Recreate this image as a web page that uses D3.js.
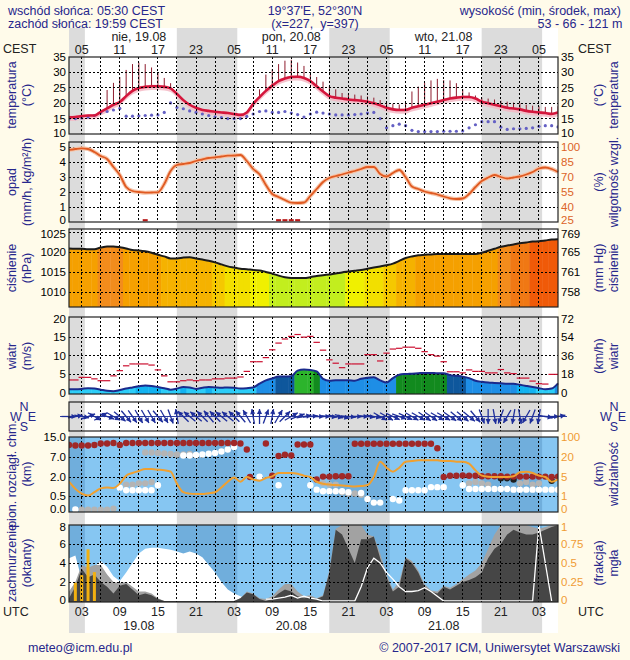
<!DOCTYPE html>
<html><head><meta charset="utf-8">
<script src="https://cdn.jsdelivr.net/npm/d3@7/dist/d3.min.js"></script>
<style>
html,body{margin:0;padding:0;background:#fffbea;}
svg text{font-family:"Liberation Sans",Arial,Helvetica,sans-serif;}
.grid{stroke:#000;stroke-width:1;stroke-dasharray:2,2;shape-rendering:crispEdges;fill:none}
</style></head><body>
<svg id="chart" width="630" height="660"></svg>
<script>
// ================= DATA =================
// hour index: hours after 00 UTC 19.08
const hoursUTC = d3.range(1, 79);
const sunriseUTC = 3.5, sunsetUTC = 17.98;
const gridHours = d3.range(3, 78, 3);
const labelHours = [3,9,15,21,27,33,39,45,51,57,63,69,75];
const utcLabels  = ["03","09","15","21","03","09","15","21","03","09","15","21","03"];
const cestLabels = ["05","11","17","23","05","11","17","23","05","11","17","23","05"];
const dayNoon = [12,36,60];
const dayNamesTop = ["nie, 19.08","pon, 20.08","wto, 21.08"];
const dayDatesBottom = ["19.08","20.08","21.08"];

const temperature = [15.4,15.5,15.8,16.0,16.0,17.2,18.3,19.5,20.4,22.3,
 24.0,24.9,25.3,25.5,25.5,25.3,24.8,23.0,21.0,19.5,
 18.5,17.8,17.5,17.2,17.0,16.8,16.5,16.2,17.0,19.8,
 22.0,24.0,25.7,27.2,28.0,28.5,28.6,28.2,27.2,25.5,
 23.8,22.3,21.8,21.5,21.2,21.0,20.8,20.5,20.0,19.3,
 18.5,18.0,17.8,17.8,18.5,19.0,19.5,20.0,20.5,21.0,
 21.5,21.8,22.0,22.0,21.5,20.5,20.0,19.5,19.0,18.5,
 18.3,18.0,17.5,17.2,17.0,16.8,16.5,17.0];
const tempMax = [null,null,null,null,null,null,24.3,26.6,28.5,30.8,
 32.7,33.2,32.7,31.6,30.0,28.2,26.5,null,null,null,
 null,null,null,null,null,null,null,null,null,null,
 24.5,29.3,31.0,32.7,33.8,34.1,33.2,32.1,29.3,28.5,
 27.0,25.5,24.5,23.3,23.0,22.8,22.5,22.2,21.8,21.0,
 20.3,19.8,19.6,20.0,23.8,25.4,26.6,27.4,27.9,27.5,
 27.4,26.5,24.5,23.5,22.5,21.8,21.5,21.2,20.8,20.5,
 20.2,20.0,19.5,19.2,19.0,18.8,18.8,19.0];
const dewPoint = [14.9,15.0,15.2,15.5,16.0,17.0,17.3,17.8,18.3,15.8,
 15.8,15.9,16.0,16.1,16.2,17.0,20.1,18.6,18.2,17.5,
 17.0,16.5,16.0,15.6,15.3,15.0,15.0,15.0,15.7,16.5,
 17.3,17.5,17.0,17.0,17.3,16.8,16.3,15.5,16.5,17.1,
 16.8,16.5,16.2,16.2,16.2,16.3,16.5,16.8,17.0,15.0,
 12.0,12.7,13.2,12.7,11.2,10.8,10.8,10.8,10.8,10.9,
 10.9,10.9,11.0,12.0,13.0,14.0,14.0,14.0,12.2,11.5,
 11.7,11.7,11.8,12.0,12.5,12.7,12.7,12.3];
const humidity = [97,98,98.7,98,95,91,88,80,72,60,
 56,55,54.3,54.5,54.7,63,76,82,83,84,
 86,87.5,89,89.5,90.5,91.3,91.5,92,86,78,
 72.7,62,53,50,47,44.3,44,44.5,51,58,
 65,69,71,72.5,74.5,76,78,80,80,73,
 70.5,74,77,70,60.5,58,55.5,54,52.5,50.5,
 48.7,48,48.5,53,60,66,69.5,72,70,68.5,
 69.5,70.5,72.5,75,78.5,79.5,78,75];
const precipHours = [13,34,35,36,37];
const precipVals  = [0.05,0.05,0.05,0.05,0.05];
const pressure = [1020.9,1020.8,1020.8,1020.7,1020.7,1021.1,1021.4,1021.4,1021.2,1020.9,
 1020.5,1020.4,1020.2,1019.8,1019.3,1018.9,1018.4,1018.4,1018.6,1018.7,
 1018.4,1018.1,1017.8,1017.4,1016.9,1016.4,1016.1,1015.8,1015.7,1015.5,
 1015.4,1015.0,1014.6,1014.1,1013.7,1013.5,1013.5,1013.5,1013.7,1014.0,
 1014.2,1014.4,1014.6,1014.9,1015.1,1015.3,1015.5,1015.8,1016.1,1016.4,
 1016.7,1017.1,1017.8,1018.5,1018.9,1019.2,1019.3,1019.4,1019.5,1019.5,
 1019.5,1019.5,1019.5,1019.5,1019.5,1019.8,1020.3,1020.8,1021.3,1021.6,
 1021.9,1022.2,1022.4,1022.6,1022.7,1022.9,1023.1,1023.2];
const windSpeed = [1.0,1.0,1.1,1.3,1.2,0.9,0.6,0.5,0.8,1.2,
 1.5,1.8,2.0,1.9,1.6,1.3,0.9,1.2,1.6,1.5,
 1.1,1.4,1.6,1.5,1.4,1.5,1.4,1.2,1.3,1.5,
 2.5,3.4,3.9,4.4,4.4,4.5,6.0,6.3,6.2,5.8,
 3.8,3.3,3.4,3.4,3.4,3.3,3.8,4.1,4.2,3.4,
 2.8,4.0,4.9,5.1,5.2,5.3,5.4,5.4,5.3,5.3,
 4.8,4.6,4.4,4.0,3.3,3.0,2.8,2.7,2.6,2.5,
 2.5,2.2,1.9,1.6,1.3,1.0,1.2,2.6];
const windGust = [3.5,3.5,4.2,4.2,3.8,3.3,3.3,4.6,6.0,7.3,
 7.8,7.8,7.8,7.5,6.2,4.6,3.0,3.0,3.3,3.5,
 3.3,3.5,3.5,3.8,3.8,4.0,4.0,4.3,5.8,8.4,
 8.4,9.5,11.6,13.4,14.5,15.2,15.7,15.0,15.2,13.6,
 11.5,8.9,8.0,6.8,7.8,7.8,7.8,10.3,10.3,8.6,
 10.7,11.8,12.0,12.3,12.3,12.0,11.1,10.3,9.9,8.4,
 5.7,5.7,5.4,6.2,5.8,5.8,5.4,5.4,6.3,5.4,
 5.2,4.0,4.0,3.2,2.5,2.4,5.0,5.0];
const windDir = [270,260,280,250,300,240,290,300,310,320,
 325,330,330,330,320,330,340,170,135,130,
 130,135,140,135,130,130,135,140,150,170,
 180,200,190,210,225,240,250,260,265,270,
 270,275,280,285,275,270,270,275,280,300,
 300,295,290,295,300,300,305,305,300,300,
 305,310,310,310,320,340,0,350,20,30,
 10,350,30,20,10,280,270,260];
const visibility = [4.0,2.5,1.5,1.1,1.8,2.6,2.8,2.7,3.6,6.0,
 8.0,9.5,11,11,10.5,10,9,3.6,1.8,1.5,
 1.4,1.4,1.6,1.8,2.8,4.0,4.9,4.0,5.0,4.5,
 4.2,4.8,5.5,8,8,8,7.5,6,5,4,
 3.6,3.4,3.3,3.2,3.1,3.0,3.1,3.3,5,16.5,
 12,9,12,16.5,17,17.5,17.5,17.5,17.5,17,
 17,16.5,16.5,15,10,6,5.2,5.0,5.0,5.0,
 5.5,8.5,9,8,6,5,4,4.5];
const cloudDotsRed = [[1,11.8],[2,11.6],[3,11.6],[4,11.6],[5,11.8],[6,12.4],[7,12.4],[8,12.6],[9,11.8],[10,12.6],
 [11,12.6],[12,12.6],[13,12.6],[14,12.6],[15,12.6],[16,12.6],[17,12.6],[18,12.6],[19,12.6],[20,12.6],
 [21,12.6],[22,12.6],[23,12.6],[24,12.6],[25,12.6],[26,12.6],[27,12.6],[28,12.4],
 [29,10.0],[29.5,2.0],[32,12.4],[33,2.3],[34,7.4],[35,7.9],[36,7.6],[37,12.0],[38,12.0],[39,12.0],
 [40,1.8],[41,2.1],[42,2.1],[43,2.2],[44,2.2],[45,2.2],
 [46,12.3],[47,12.3],[48,12.3],[49,12.3],[50,12.3],[51,12.3],[52,12.3],[53,12.3],[54,12.3],[55,12.3],[56,12.3],[57,12.3],[58,12.3],
 [59,10.5],[60,2.0],[61,2.3],[62,2.3],[63,2.4],[64,2.3],[65,2.3],[66,2.2],[67,2.2],[68,2.2],[69,2.2],[70,2.1],
 [71,2.1],[72,2.1],[73,2.1],[74,2.1],[75,2.1],[76,2.1],[77,2.0],[78,2.1]];
const cloudDotsGray = [[3,0.04],[4,0.04],[5,0.04],[6,0.04],[7,0.04],[8,0.08],
 [10,1.4],[11,1.4],[12,1.5],[13,1.5],[14,1.6],
 [13,8.8],[14,8.8],[15,8.6],[16,8.4],[17,8.2],[18,8.0],[19,8.0],[20,8.2],
 [41,1.5],[42,1.4],[43,1.4],[44,0.8],[45,0.7],[46,0.7],[47,0.6],
 [64,1.5],[65,1.6],[66,1.5],[67,1.4],[72,1.5],[73,1.6],[74,1.4],[75,1.5]];
const cloudDotsWhite = [[2,0.05],[9,1.16],[10,0.95],[11,0.95],[12,0.95],[13,0.95],[14,0.95],[15,1.35],
 [19,7.6],[20,7.6],[21,7.8],[22,8.0],[23,8.3],[24,8.6],[25,9.2],[26,10.0],[27,11.0],
 [31,2.1],[34,1.35],[39,1.35],[40,1.0],[41,0.87],[42,0.87],[43,0.87],[44,0.87],[45,0.8],
 [47,0.74],[48,0.4],[49,0.28],[50,0.28],[52,0.4],[53,0.35],[54,0.95],[55,0.95],[56,0.95],[57,0.95],
 [58,1.2],[59,1.2],[60,1.2],[63,1.35],[64,1.05],[65,1.05],[66,1.05],[67,1.05],[68,1.05],[69,1.05],
 [70,1.05],[71,1.0],[72,1.0],[73,1.0],[74,1.0],[75,1.0],[76,1.0],[77,1.0],[78,1.0]];
const cloudDotsBlack = [[69,1.9],[70,1.9],[71,1.8],[77,1.7]];
const cloudWhite = [4.5,4.8,2.3,2.6,3.6,4.2,3.6,2.6,2.1,3.0,
 4.0,5.0,5.5,5.6,5.6,5.5,5.4,5.2,5.0,5.2,
 5.0,4.6,3.8,3.0,2.0,1.2,0.8,0.5,0.2,0,
 0,0,0,0,0,0,0,0,0,0, 0,0,0,0,0,0,0,0,0,0,
 0,0,0,0,0,0,0,0,0,0, 0,0,0,0,0,0,0,0,0,0, 0,0,0,0,0,0,0,0];
const cloudLight = [1.0,2.0,3.8,3.5,3.8,3.8,2.8,2.0,1.9,2.0,
 1.5,1.0,1.0,0.8,0.3,0,0,0,0,0,
 0,0,0,0,0,0,0,0.3,1.0,0.8,
 0.3,0.2,0.5,1.2,1.8,1.8,1.0,0.5,0.6,0.3,
 0.6,3.2,7.6,8.0,8.0,8.0,8.0,7.0,6.8,5.0,
 2.8,1.2,2.0,4.6,4.2,3.2,1.8,1.1,1.0,1.6,
 1.4,1.8,2.3,2.8,3.2,4.0,5.5,7.0,8.0,8.0,
 8.0,8.0,8.0,7.8,7.6,7.8,8.0,8.0];
const cloudDark = [0.3,1.5,3.4,2.5,2.8,2.0,1.5,0.8,1.6,1.8,
 1.2,0.6,0.8,0.6,0.2,0,0,0,0,0,
 0,0,0,0,0,0,0,0.3,0.9,0.7,
 0.2,0,0.2,0.8,1.2,1.0,0.5,0.3,0.4,0.2,
 0.5,3.0,7.5,7.0,5.5,4.0,6.5,6.5,6.8,4.5,
 2.5,1.0,1.5,4.5,4.0,3.0,1.5,1.0,0.8,1.5,
 1.2,1.6,2.0,2.2,2.5,3.0,4.5,5.5,6.0,7.0,
 7.5,7.2,7.0,7.0,7.2,7.5,7.8,8.0];
const whiteLineHours = [32,33,34,35,36,37,38,39,40,41,46,47,48,49,50,51,52,53,54,55,56,57,58,59,60,74,75,76,77];
const whiteLineVals  = [0.2,0.2,0.3,0.4,0.6,0.3,0.5,0.3,0.2,0,0,1.5,3.5,4.5,4.0,3.0,2.3,1.5,1.0,1.0,1.1,1.4,1.0,0.5,0,0,8,4,0];
const fogHours = [2,3,4,5];
const fogVals  = [0.24,0.34,0.68,0.38];

const tempTicks=[10,15,20,25,30,35];
const precipTicks=[0,1,2,3,4,5];
const humTicks=[25,40,55,70,85,100];
const pressTicks=[1010,1015,1020,1025];
const pressHgLabels=["758","761","765","769"];
const windTicks=[0,5,10,15,20];
const windKmhLabels=["0","18","36","54","72"];
const cbTicks=[0,0.5,2,7,15];
const cbLabels=["0.0","0.5","2.0","7.0","15.0"];
const visTicks=[0,1,5,20,100];
const coverTicks=[0,2,4,6,8];
const fogTicks=[0,0.25,0.5,0.75,1];
const fogLabels=["0","0.25","0.5","0.75","1"];

// ================= DRAWING =================
const svg = d3.select("#chart");
const W=630,H=660,X0=69,X1=558;
const BLUE="#27278c", ORANGE_R="#dc6428", ORANGE_V="#f09c34";
const TICK_FS=11.5;
const x = d3.scaleLinear().domain([1,78]).range([X0,X1]);
const nights = [[1,sunriseUTC],[sunsetUTC,sunriseUTC+24],[sunsetUTC+24,sunriseUTC+48],[sunsetUTC+48,sunriseUTC+72]];
const defs = svg.append("defs");

svg.append("rect").attr("width",W).attr("height",H).attr("fill","#fffbea");
svg.append("rect").attr("x",X0).attr("y",28).attr("width",X1-X0).attr("height",605).attr("fill","#ffffff");
nights.forEach(([a,b])=>svg.append("rect").attr("x",x(a)).attr("y",28).attr("width",x(b)-x(a)).attr("height",605).attr("fill","#dcdcdc"));

function txt(xp,yp,s,o={}){
  return svg.append("text").attr("x",xp).attr("y",yp).text(s)
   .attr("font-size",o.size||TICK_FS).attr("fill",o.fill||"#000")
   .attr("text-anchor",o.anchor||"start").attr("dy",o.dy||null);
}
function vtxt(xc,yc,s){
  svg.append("text").attr("transform",`translate(${xc},${yc}) rotate(-90)`)
   .attr("text-anchor","middle").attr("dy","0.35em").attr("font-size",12.5).attr("fill",BLUE).text(s);
}
function vgrid(y0,y1){ gridHours.forEach(h=>svg.append("line").attr("class","grid").attr("x1",x(h)).attr("x2",x(h)).attr("y1",y0).attr("y2",y1)); }
function hgrid(ys){ ys.forEach(y=>svg.append("line").attr("class","grid").attr("x1",X0).attr("x2",X1).attr("y1",y).attr("y2",y)); }
function frame(y0,y1){ svg.append("rect").attr("x",X0).attr("y",y0).attr("width",X1-X0).attr("height",y1-y0)
   .attr("fill","none").attr("stroke","#222").attr("stroke-width",1.2); }
// nudge: optional per-label pixel shift to keep neighbouring panels' labels apart
function leftTicks(vals,scale,labels,fill,nudge){ vals.forEach((v,i)=>txt(66,scale(v)+((nudge&&nudge[i])||0),labels?labels[i]:String(v),{anchor:"end",dy:"0.35em",fill:fill||"#000"})); }
function rightTicks(vals,scale,labels,fill,nudge){ vals.forEach((v,i)=>txt(561,scale(v)+((nudge&&nudge[i])||0),labels?labels[i]:String(v),{dy:"0.35em",fill:fill||"#000"})); }
function clipRect(id,y0,y1){ defs.append("clipPath").attr("id",id).append("rect").attr("x",X0).attr("y",y0).attr("width",X1-X0).attr("height",y1-y0); return `url(#${id})`; }

// ---------- header ----------
txt(8,15,"wschód słońca: 05:30 CEST",{fill:BLUE,size:12.5});
txt(8,28,"zachód słońca: 19:59 CEST",{fill:BLUE,size:12.5});
txt(315,15,"19°37'E, 52°30'N",{fill:BLUE,size:12.5,anchor:"middle"});
txt(315,28,"(x=227,  y=397)",{fill:BLUE,size:12.5,anchor:"middle"}).attr("xml:space","preserve").style("white-space","pre");
txt(621,15,"wysokość (min, środek, max)",{fill:BLUE,size:12.5,anchor:"end"});
txt(580,28,"53 - 66 - 121 m",{fill:BLUE,size:12.5,anchor:"middle"});
dayNoon.forEach((h,i)=>txt(x(h),41,dayNamesTop[i],{anchor:"middle",fill:"#222",size:12.5}));
labelHours.forEach((h,i)=>txt(x(h),54,cestLabels[i],{anchor:"middle",fill:"#222",size:12.5}));
txt(3,53,"CEST",{fill:"#222",size:12.5});
txt(578,53,"CEST",{fill:"#222",size:12.5});

// ---------- temperature ----------
const yT = d3.scaleLinear().domain([10,35]).range([134,57]);
const cT = clipRect("cT",57,134);
const gT = svg.append("g").attr("clip-path",cT);
gT.append("path").datum(temperature)
  .attr("d",d3.area().x((d,i)=>x(hoursUTC[i])).y0(d=>yT(d-1.2)).y1(d=>yT(d+0.5)).curve(d3.curveMonotoneX))
  .attr("fill","#f5b8c4").attr("opacity",0.85);
vgrid(57,134); hgrid([15,20,25,30].map(yT));
hoursUTC.forEach((h,i)=>{ if(tempMax[i]!=null) gT.append("line").attr("x1",x(h)).attr("x2",x(h))
  .attr("y1",yT(temperature[i])).attr("y2",yT(tempMax[i])).attr("stroke","#8e1c2e").attr("stroke-width",1); });
gT.selectAll(".dew").data(dewPoint).join("circle").attr("cx",(d,i)=>x(hoursUTC[i])).attr("cy",d=>yT(d)).attr("r",1.6).attr("fill","#6460c4");
gT.append("path").datum(temperature).attr("d",d3.line().x((d,i)=>x(hoursUTC[i])).y(d=>yT(d)).curve(d3.curveMonotoneX))
  .attr("fill","none").attr("stroke","#d4163c").attr("stroke-width",2.6);
frame(57,134);
leftTicks(tempTicks,yT,null,null,[-1.5]); rightTicks(tempTicks,yT,null,null,[-1.5]);
vtxt(12,95,"temperatura"); vtxt(27,95,"(°C)");
vtxt(599,95,"(°C)"); vtxt(614,95,"temperatura");

// ---------- precipitation / humidity ----------
const yP = d3.scaleLinear().domain([0,5]).range([222,147]);
const yH = d3.scaleLinear().domain([25,100]).range([222,147]);
vgrid(142,222); hgrid([1,2,3,4,5].map(yP));
const hLine = d3.line().x((d,i)=>x(hoursUTC[i])).y(d=>yH(d)).curve(d3.curveMonotoneX);
svg.append("path").datum(humidity).attr("d",hLine).attr("fill","none").attr("stroke","#f6c4a8").attr("stroke-width",4);
svg.append("path").datum(humidity).attr("d",hLine).attr("fill","none").attr("stroke","#e05a22").attr("stroke-width",1.8);
precipHours.forEach((h,i)=>svg.append("line").attr("x1",x(h)-2.5).attr("x2",x(h)+2.5)
  .attr("y1",yP(precipVals[i])-1).attr("y2",yP(precipVals[i])-1).attr("stroke","#b81818").attr("stroke-width",2.2));
frame(142,222);
leftTicks(precipTicks,yP,null,null,[-2.5]); rightTicks(humTicks,yH,null,ORANGE_R,[-2.5]);
vtxt(12,182,"opad"); vtxt(27,182,"(mm/h, kg/m²/h)");
vtxt(599,182,"(%)"); vtxt(614,182,"wilgotność wzgl.");

// ---------- pressure ----------
const yPr = d3.scaleLinear().domain([1010,1025]).range([292,232]);
const pColor = d3.scaleThreshold().domain([1015.0,1015.6,1016.5,1017.6,1019.0,1021.0,1021.7,1022.6])
  .range(["#c2ee1e","#f0f000","#f2df00","#f5c800","#f5b200","#f5a000","#f28c1c","#f07814","#f05a08"]);
const pArea = d3.area().x((d,i)=>x(hoursUTC[i])).y0(307).y1(d=>yPr(d)).curve(d3.curveMonotoneX);
defs.append("clipPath").attr("id","cPr").append("path").datum(pressure).attr("d",pArea);
const gPr = svg.append("g").attr("clip-path","url(#cPr)");
hoursUTC.forEach((h,i)=>{ const a=Math.max(X0,x(h-0.5)), b=Math.min(X1,x(h+0.5));
  gPr.append("rect").attr("x",a).attr("y",229).attr("width",b-a+0.4).attr("height",78).attr("fill",pColor(pressure[i])); });
vgrid(229,307); hgrid(pressTicks.map(yPr));
svg.append("path").datum(pressure).attr("d",d3.line().x((d,i)=>x(hoursUTC[i])).y(d=>yPr(d)).curve(d3.curveMonotoneX))
  .attr("fill","none").attr("stroke","#1a1a1a").attr("stroke-width",2);
frame(229,307);
leftTicks(pressTicks,yPr,null,null,[0,0,0,2]); rightTicks(pressTicks,yPr,pressHgLabels,null,[0,0,0,2]);
vtxt(12,268,"ciśnienie"); vtxt(27,268,"(hPa)");
vtxt(599,268,"(mm Hg)"); vtxt(614,268,"ciśnienie");

// ---------- wind ----------
const yW = d3.scaleLinear().domain([0,20]).range([393,318.5]);
const wColor = d3.scaleThreshold().domain([1.55,2.5,4.3,4.9,5.9])
  .range(["#2ccdf8","#12b2f0","#1e8ee6","#0e579c","#128a1e","#2cb42c"]);
const wArea = d3.area().x((d,i)=>x(hoursUTC[i])).y0(394).y1(d=>yW(d)).curve(d3.curveMonotoneX);
defs.append("clipPath").attr("id","cW").append("path").datum(windSpeed).attr("d",wArea);
const gW = svg.append("g").attr("clip-path","url(#cW)");
hoursUTC.forEach((h,i)=>{ const a=Math.max(X0,x(h-0.5)), b=Math.min(X1,x(h+0.5));
  gW.append("rect").attr("x",a).attr("y",318).attr("width",b-a+0.4).attr("height",76).attr("fill",wColor(windSpeed[i])); });
vgrid(317,394); hgrid([5,10,15].map(yW));
svg.append("path").datum(windSpeed).attr("d",d3.line().x((d,i)=>x(hoursUTC[i])).y(d=>yW(d)).curve(d3.curveMonotoneX))
  .attr("fill","none").attr("stroke","#1a2a8c").attr("stroke-width",2);
hoursUTC.forEach((h,i)=>svg.append("line").attr("x1",Math.max(X0,x(h)-3.2)).attr("x2",Math.min(X1,x(h)+3.2))
  .attr("y1",yW(windGust[i])).attr("y2",yW(windGust[i])).attr("stroke","#cc1030").attr("stroke-width",1.2));
frame(317,394);
leftTicks(windTicks,yW); rightTicks(windTicks,yW,windKmhLabels);
vtxt(12,356,"wiatr"); vtxt(27,356,"(m/s)");
vtxt(599,356,"(km/h)"); vtxt(614,356,"wiatr");

// ---------- wind direction ----------
const yD0=402, yD1=431, yDc=416.5;
vgrid(yD0,yD1);
svg.append("line").attr("x1",60).attr("x2",567).attr("y1",yDc).attr("y2",yDc).attr("stroke","#3040a0").attr("stroke-width",1);
const arrowLen=15;
hoursUTC.forEach((h,i)=>{
  const th=windDir[i]*Math.PI/180, dx=-Math.sin(th), dy=Math.cos(th);
  const cx=x(h), x1=cx-dx*arrowLen/2, y1=yDc-dy*arrowLen/2, x2=cx+dx*arrowLen/2, y2=yDc+dy*arrowLen/2;
  svg.append("line").attr("x1",x1).attr("y1",y1).attr("x2",x2).attr("y2",y2).attr("stroke","#1e2e9a").attr("stroke-width",1.3);
  const px=-dy, py=dx, hl=5, hw=2.6;
  const bx=x2-dx*hl, by=y2-dy*hl;
  svg.append("path").attr("d",`M${x2},${y2}L${bx+px*hw},${by+py*hw}L${bx-px*hw},${by-py*hw}Z`).attr("fill","#1e2e9a");
});
frame(yD0,yD1);
function compass(cx){
  txt(cx-8,421,"W",{fill:BLUE,size:12.5,anchor:"middle"});
  txt(cx,411,"N",{fill:BLUE,size:12.5,anchor:"middle"});
  txt(cx+8,421,"E",{fill:BLUE,size:12.5,anchor:"middle"});
  txt(cx,431,"S",{fill:BLUE,size:12.5,anchor:"middle"});
}
compass(24); compass(614);

// ---------- cloud extent / visibility ----------
const cb0=437, cb1=512;
const yCB = d3.scaleLinear().domain(cbTicks).range([511,496,477,457,437]);
const yV = d3.scaleLinear().domain(visTicks).range([511,496,477,457,437]);
svg.append("rect").attr("x",X0).attr("y",cb0).attr("width",X1-X0).attr("height",cb1-cb0).attr("fill","#86c6f2");
nights.forEach(([a,b])=>svg.append("rect").attr("x",x(a)).attr("y",cb0).attr("width",x(b)-x(a)).attr("height",cb1-cb0).attr("fill","#70aedc"));
vgrid(cb0,cb1); hgrid([0.5,2,7].map(yCB));
const gCB = svg.append("g").attr("clip-path",clipRect("cCB",cb0,cb1));
function dots(data,fill){ data.forEach(([h,v])=>gCB.append("circle").attr("cx",x(h)).attr("cy",yCB(v)).attr("r",3.2).attr("fill",fill)); }
dots(cloudDotsGray,"#b4b4b4");
dots(cloudDotsWhite,"#ffffff");
dots(cloudDotsBlack,"#1e1e1e");
dots(cloudDotsRed,"#a02828");
gCB.append("path").datum(visibility).attr("d",d3.line().x((d,i)=>x(hoursUTC[i])).y(d=>yV(d)).curve(d3.curveMonotoneX))
  .attr("fill","none").attr("stroke","#f0a030").attr("stroke-width",2);
frame(cb0,cb1);
leftTicks(cbTicks,yCB,cbLabels,null,[-2]); rightTicks(visTicks,yV,null,ORANGE_V,[-2]);
vtxt(12,474,"pion. rozciągł. chm."); vtxt(27,474,"(km)");
vtxt(599,474,"(km)"); vtxt(614,474,"widzialność");

// ---------- cloud cover / fog ----------
const cc0=525, cc1=602;
const yC = d3.scaleLinear().domain([0,8]).range([601,525]);
const yF = d3.scaleLinear().domain([0,1]).range([601,525]);
svg.append("rect").attr("x",X0).attr("y",cc0).attr("width",X1-X0).attr("height",cc1-cc0).attr("fill","#86c6f2");
nights.forEach(([a,b])=>svg.append("rect").attr("x",x(a)).attr("y",cc0).attr("width",x(b)-x(a)).attr("height",cc1-cc0).attr("fill","#70aedc"));
const gC = svg.append("g").attr("clip-path",clipRect("cC",cc0,cc1));
const cArea = d3.area().x((d,i)=>x(hoursUTC[i])).y0(602).y1(d=>yC(d));
gC.append("path").datum(cloudWhite).attr("d",cArea).attr("fill","#ffffff");
gC.append("path").datum(cloudLight).attr("d",cArea).attr("fill","#a2a2a2");
gC.append("path").datum(cloudDark).attr("d",cArea).attr("fill","#464646");
vgrid(cc0,cc1); hgrid([2,4,6].map(yC));
gC.append("path").datum(whiteLineVals).attr("d",d3.line().x((d,i)=>x(whiteLineHours[i])).y(d=>yC(d)))
  .attr("fill","none").attr("stroke","#ffffff").attr("stroke-width",1.3);
fogHours.forEach((h,i)=>gC.append("rect").attr("x",x(h)-1.5).attr("y",yF(fogVals[i])).attr("width",3).attr("height",601-yF(fogVals[i])).attr("fill","#f2b010"));
frame(cc0,cc1);
leftTicks(coverTicks,yC,null,null,[-1,0,0,0,1.5]); rightTicks(fogTicks,yF,fogLabels,ORANGE_V,[-1,0,0,0,1.5]);
vtxt(12,563,"zachmurzenie"); vtxt(27,563,"(oktanty)");
vtxt(599,563,"(frakcja)"); vtxt(614,563,"mgła");

// ---------- bottom axis ----------
labelHours.forEach((h,i)=>txt(x(h),616,utcLabels[i],{anchor:"middle",fill:"#222",size:12.5}));
dayNoon.forEach((h,i)=>txt(x(h),630,dayDatesBottom[i],{anchor:"middle",fill:"#222",size:12.5}));
txt(3,616,"UTC",{fill:"#222",size:12.5});
txt(578,616,"UTC",{fill:"#222",size:12.5});

// ---------- footer ----------
txt(28,652,"meteo@icm.edu.pl",{fill:BLUE,size:12.5});
txt(620,652,"© 2007-2017 ICM, Uniwersytet Warszawski",{fill:BLUE,size:12.5,anchor:"end"});
</script></body></html>
